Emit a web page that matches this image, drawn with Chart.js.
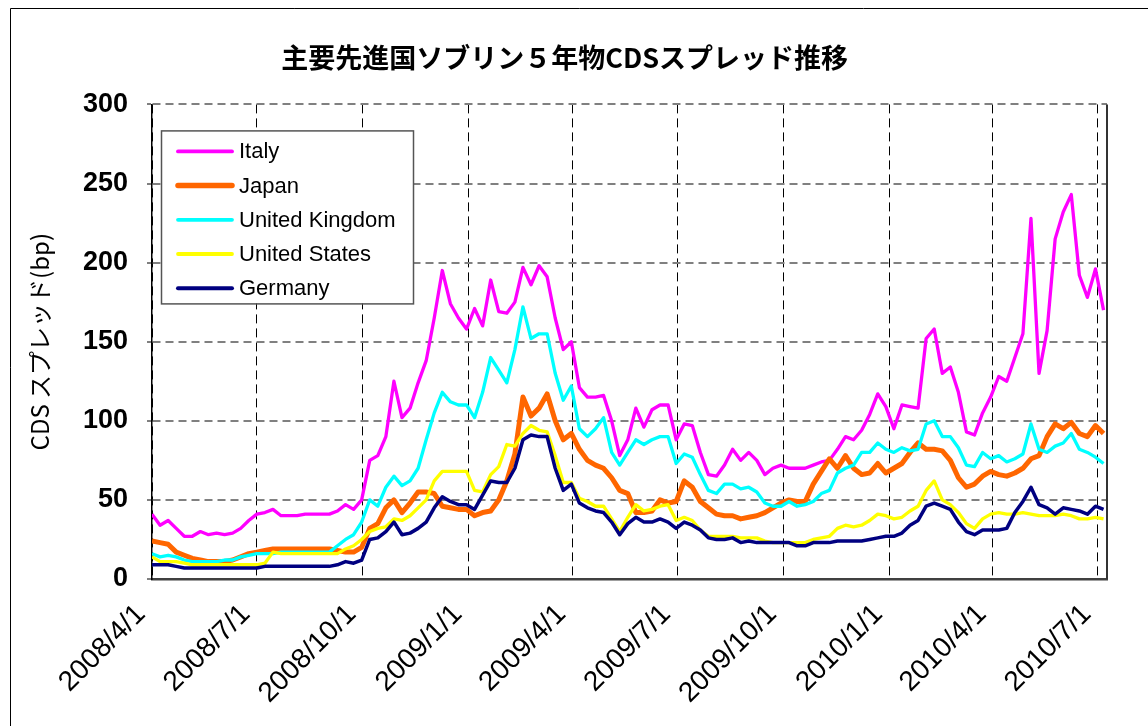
<!DOCTYPE html>
<html lang="ja">
<head>
<meta charset="utf-8">
<title>主要先進国ソブリン５年物CDSスプレッド推移</title>
<script src="https://cdn.jsdelivr.net/npm/chart.js@4.4.1/dist/chart.umd.min.js"></script>
<style>
  html, body { margin: 0; padding: 0; background: #fff; }
  canvas { display: block; }
</style>
</head>
<body>
<canvas id="cdsChart" width="1148" height="726"></canvas>
<script>
// Weekly readings, x = days since 2008/4/1
const days = Array.from({ length: 119 }, (_, i) => i * 7);

// Quarter start ticks on the x axis
const tickDays = [0, 91, 183, 275, 365, 456, 548, 640, 730, 821];
const tickLabels = ['2008/4/1', '2008/7/1', '2008/10/1', '2009/1/1', '2009/4/1',
                    '2009/7/1', '2009/10/1', '2010/1/1', '2010/4/1', '2010/7/1'];

// CDS spreads (bp)
const italy = [
  41, 34, 37, 32, 27, 27, 30, 28, 29, 28,
  29, 32, 37, 41, 42, 44, 40, 40, 40, 41,
  41, 41, 41, 43, 47, 44, 50, 75, 78, 90,
  125, 102, 108, 124, 138, 165, 195, 174, 165, 158,
  171, 160, 189, 169, 168, 175, 197, 186, 198, 191,
  165, 145, 150, 121, 115, 115, 116, 100, 78, 88,
  108, 96, 107, 110, 110, 88, 98, 97, 80, 66,
  65, 72, 82, 75, 80, 75, 66, 70, 72, 70,
  70, 70, 72, 74, 75, 82, 90, 88, 94, 104,
  117, 109, 95, 110, 109, 108, 152, 158, 130, 134,
  118, 93, 91, 105, 115, 128, 125, 140, 155, 228,
  130, 157, 215, 232, 243, 192, 178, 196, 170
];
const japan = [
  24, 23, 22, 17, 15, 13, 12, 11, 11, 11,
  12, 14, 16, 17, 18, 19, 19, 19, 19, 19,
  19, 19, 19, 18, 17, 17, 20, 32, 35, 45,
  50, 42, 48, 55, 55, 54, 46, 45, 44, 44,
  40, 42, 43, 50, 62, 79, 115, 103, 108, 117,
  100, 88, 92, 82, 75, 72, 70, 64, 56, 54,
  42, 42, 43, 50, 48, 49, 62, 58, 49, 45,
  41, 40, 40, 38, 39, 40, 42, 45, 48, 50,
  49, 49, 60, 68, 76, 70, 78, 70, 66, 67,
  73, 67, 70, 73, 80, 86, 82, 82, 81, 75,
  64, 58, 60, 65, 68, 66, 65, 67, 70, 76,
  78, 90, 98, 95, 99, 92, 90, 97, 92
];
const unitedKingdom = [
  16, 14, 15, 14, 12, 11, 11, 11, 11, 12,
  12, 14, 15, 16, 16, 16, 17, 17, 17, 17,
  17, 17, 17, 21, 25, 28, 36, 50, 46, 58,
  65, 59, 62, 70, 88, 105, 118, 112, 110, 110,
  102, 118, 140, 132, 124, 145, 172, 152, 155, 155,
  130, 113, 122, 95, 90, 95, 102, 80, 72, 80,
  88, 85, 88, 90, 90, 73, 79, 77, 66, 56,
  54, 60, 60, 57, 58, 55, 48, 46, 46, 49,
  46, 47, 49, 54, 56, 67, 70, 72, 80, 80,
  86, 82, 80, 83, 81, 82, 98, 100, 90, 90,
  83, 72, 71, 80, 76, 78, 74, 76, 79, 98,
  82, 80, 84, 86, 92, 82, 80, 77, 73
];
const unitedStates = [
  14, 11, 11, 11, 10, 9, 9, 9, 9, 9,
  9, 9, 9, 9, 10, 17, 16, 16, 16, 16,
  16, 16, 16, 16, 19, 21, 25, 30, 32, 33,
  38, 37, 40, 45, 50, 62, 68, 68, 68, 68,
  56, 55, 66, 71, 85, 84, 92, 97, 94, 93,
  78, 61, 61, 51, 49, 46, 46, 38, 30, 39,
  47, 43, 44, 46, 47, 37, 39, 37, 31, 27,
  27, 27, 27, 26, 26, 26, 24, 23, 23, 23,
  23, 23, 25, 26, 27, 32, 34, 33, 34, 37,
  41, 40, 38, 39, 43, 46, 56, 62, 50, 47,
  42, 35, 32, 38, 41, 42, 41, 41, 42, 41,
  40, 40, 40, 41, 40, 38, 38, 39, 38
];
const germany = [
  9, 9, 9, 8, 7, 7, 7, 7, 7, 7,
  7, 7, 7, 7, 8, 8, 8, 8, 8, 8,
  8, 8, 8, 9, 11, 10, 12, 25, 26, 30,
  36, 28, 29, 32, 36, 45, 52, 49, 47, 47,
  44, 53, 62, 61, 61, 70, 88, 91, 90, 90,
  70, 56, 60, 48, 45, 43, 42, 36, 28, 35,
  39, 36, 36, 38, 36, 32, 36, 34, 31, 26,
  25, 25, 26, 23, 24, 23, 23, 23, 23, 23,
  21, 21, 23, 23, 23, 24, 24, 24, 24, 25,
  26, 27, 27, 29, 34, 37, 46, 48, 46, 44,
  36, 30, 28, 31, 31, 31, 32, 42, 49, 58,
  47, 45, 41, 45, 44, 43, 41, 46, 44
];

const seriesNames = ['Italy', 'Japan', 'United Kingdom', 'United States', 'Germany'];
const seriesValues = [italy, japan, unitedKingdom, unitedStates, germany];
const seriesColors = ['#ff00ff', '#ff6600', '#00ffff', '#ffff00', '#000080'];
const seriesWidths = [3.3, 5, 3.3, 3.3, 3.5];

// white page, outer frame and right edge of the plot
const framePlugin = {
  id: 'frame',
  beforeDraw(chart) {
    const c = chart.ctx;
    c.save();
    c.fillStyle = '#fff';
    c.fillRect(0, 0, chart.width, chart.height);
    c.strokeStyle = '#000';
    c.lineWidth = 1;
    c.beginPath();
    c.moveTo(10.5, chart.height);
    c.lineTo(10.5, 8.5);
    c.lineTo(chart.width, 8.5);
    c.stroke();
    c.restore();
  },
  afterDatasetsDraw(chart) {
    const c = chart.ctx;
    const a = chart.chartArea;
    c.save();
    c.strokeStyle = '#333';
    c.lineWidth = 2;
    c.beginPath();
    c.moveTo(a.right, a.top);
    c.lineTo(a.right, a.bottom);
    c.stroke();
    c.restore();
  }
};

// boxed legend inside the plot area, like the original
const boxLegend = {
  id: 'boxLegend',
  afterDraw(chart) {
    const c = chart.ctx;
    const a = chart.chartArea;
    const left = a.left + 9, top = a.top + 26, w = 252, h = 173;
    c.save();
    c.fillStyle = '#fff';
    c.fillRect(left, top, w, h);
    c.strokeStyle = '#555';
    c.lineWidth = 1.5;
    c.strokeRect(left + 0.5, top + 0.5, w, h);
    c.font = '22px "Liberation Sans", Arial, sans-serif';
    c.textBaseline = 'middle';
    chart.data.datasets.forEach((ds, i) => {
      const y = top + 21 + i * 34.2;
      c.strokeStyle = ds.borderColor;
      c.lineWidth = ds.borderWidth + 0.5;
      c.lineCap = 'round';
      c.beginPath();
      c.moveTo(left + 17, y);
      c.lineTo(left + 71, y);
      c.stroke();
      c.fillStyle = '#000';
      c.fillText(ds.label, left + 78, y + 1);
    });
    c.restore();
  }
};

const datasets = seriesNames.map((name, i) => ({
  label: name,
  data: seriesValues[i],
  borderColor: seriesColors[i],
  backgroundColor: seriesColors[i],
  borderWidth: seriesWidths[i],
  pointRadius: 0,
  tension: 0,
  borderJoinStyle: 'round',
  order: seriesNames.length - i
}));

new Chart(document.getElementById('cdsChart'), {
  type: 'line',
  data: { labels: days, datasets: datasets },
  options: {
    responsive: false,
    animation: false,
    devicePixelRatio: 1,
    layout: { padding: { left: 10, right: 41, top: 0, bottom: 0 } },
    plugins: {
      legend: { display: false },
      tooltip: { enabled: false },
      title: {
        display: true,
        // two leading spaces shift the centred title a little to the right
        text: '  主要先進国ソブリン５年物CDSスプレッド推移',
        color: '#000',
        font: { family: '"Noto Sans CJK JP", sans-serif', size: 27, weight: 'bold' },
        padding: { top: 42, bottom: 30 }
      }
    },
    scales: {
      x: {
        type: 'linear',
        min: 0,
        max: 829,
        afterBuildTicks: s => { s.ticks = tickDays.map(v => ({ value: v })); },
        afterFit: s => { s.height = 147; },
        ticks: {
          autoSkip: false,
          minRotation: 45,
          maxRotation: 45,
          padding: 8,
          color: '#000',
          font: { family: '"Liberation Sans", Arial, sans-serif', size: 28 },
          // trailing spaces nudge the rotated text down-left, as in the original
          callback: v => tickLabels[tickDays.indexOf(v)] + '  '
        },
        grid: { color: '#000', lineWidth: 1, drawTicks: false },
        border: { display: true, color: '#404040', width: 2.5, dash: [9, 5] }
      },
      y: {
        min: 0,
        max: 300,
        afterFit: s => { s.width = 142; },
        ticks: {
          stepSize: 50,
          padding: 19,
          color: '#000',
          font: { family: '"Liberation Sans", Arial, sans-serif', size: 27, weight: 'bold' }
        },
        grid: {
          color: '#808080',
          lineWidth: 2,
          drawTicks: true,
          tickLength: 5,
          tickColor: '#000',
          tickWidth: 1,
          tickBorderDash: []
        },
        border: { display: true, color: '#000', width: 1.5, dash: [8, 5] },
        title: {
          display: true,
          text: 'CDS スプレッド(bp)',
          color: '#000',
          font: { family: '"Noto Sans CJK JP", sans-serif', size: 24 },
          padding: { top: 15, bottom: 0 }
        }
      }
    }
  },
  plugins: [framePlugin, boxLegend]
});
</script>
</body>
</html>
